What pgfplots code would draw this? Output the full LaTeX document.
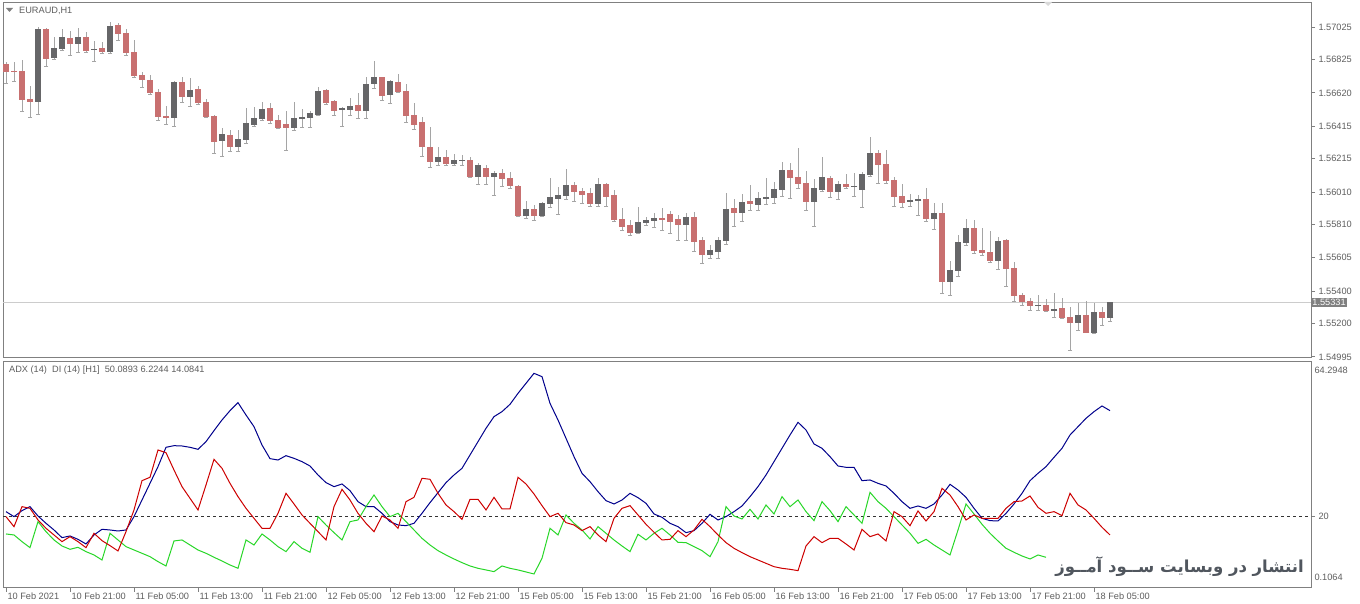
\documentclass[border=0pt]{standalone}
\usepackage{fontspec}
\setmainfont{Liberation Sans}
\newfontfamily\arabicfont[Script=Arabic]{DejaVu Sans}
\TeXXeTstate=1
\usepackage{pgfplots}
\usepackage{pgfplotstable}
\pgfplotsset{compat=1.18}
\definecolor{bull}{RGB}{102,102,104}
\definecolor{bear}{RGB}{200,112,112}
\definecolor{wick}{RGB}{165,165,165}
\definecolor{frame}{RGB}{128,128,128}
\definecolor{txt}{RGB}{95,95,95}
\definecolor{adxblue}{RGB}{0,0,140}
\definecolor{dired}{RGB}{205,0,0}
\definecolor{digreen}{RGB}{40,215,40}
\definecolor{wm}{RGB}{80,86,94}

\pgfplotstableread{
i o h l c
0 1.56797 1.56812 1.56682 1.56750
1 1.56756 1.56812 1.56689 1.56752
2 1.56754 1.56822 1.56510 1.56580
3 1.56584 1.56662 1.56473 1.56568
4 1.56565 1.57027 1.56490 1.57013
5 1.57013 1.57017 1.56781 1.56830
6 1.56838 1.56961 1.56826 1.56894
7 1.56892 1.57011 1.56883 1.56963
8 1.56957 1.57002 1.56853 1.56922
9 1.56922 1.57017 1.56873 1.56963
10 1.56963 1.56992 1.56873 1.56879
11 1.56885 1.56939 1.56816 1.56892
12 1.56896 1.56935 1.56863 1.56873
13 1.56873 1.57058 1.56863 1.57031
14 1.57037 1.57052 1.56945 1.56986
15 1.56988 1.57011 1.56853 1.56867
16 1.56871 1.56945 1.56719 1.56725
17 1.56730 1.56750 1.56654 1.56703
18 1.56699 1.56730 1.56613 1.56621
19 1.56625 1.56641 1.56449 1.56473
20 1.56479 1.56539 1.56428 1.56467
21 1.56467 1.56691 1.56416 1.56687
22 1.56687 1.56719 1.56565 1.56596
23 1.56596 1.56709 1.56539 1.56637
24 1.56643 1.56662 1.56551 1.56559
25 1.56563 1.56584 1.56469 1.56473
26 1.56477 1.56483 1.56248 1.56319
27 1.56326 1.56401 1.56227 1.56367
28 1.56360 1.56391 1.56258 1.56289
29 1.56289 1.56391 1.56258 1.56334
30 1.56330 1.56529 1.56309 1.56432
31 1.56428 1.56535 1.56416 1.56465
32 1.56461 1.56561 1.56453 1.56520
33 1.56527 1.56559 1.56436 1.56449
34 1.56453 1.56483 1.56401 1.56406
35 1.56428 1.56510 1.56264 1.56406
36 1.56408 1.56566 1.56391 1.56463
37 1.56461 1.56518 1.56408 1.56471
38 1.56467 1.56510 1.56408 1.56496
39 1.56486 1.56658 1.56483 1.56633
40 1.56635 1.56641 1.56551 1.56559
41 1.56570 1.56576 1.56483 1.56514
42 1.56516 1.56531 1.56412 1.56525
43 1.56520 1.56586 1.56483 1.56539
44 1.56545 1.56617 1.56463 1.56514
45 1.56514 1.56719 1.56463 1.56674
46 1.56676 1.56818 1.56648 1.56715
47 1.56715 1.56719 1.56576 1.56602
48 1.56607 1.56699 1.56559 1.56695
49 1.56687 1.56736 1.56621 1.56627
50 1.56631 1.56672 1.56442 1.56479
51 1.56483 1.56559 1.56395 1.56428
52 1.56440 1.56473 1.56231 1.56289
53 1.56287 1.56412 1.56161 1.56196
54 1.56196 1.56285 1.56176 1.56223
55 1.56223 1.56268 1.56176 1.56186
56 1.56184 1.56244 1.56176 1.56205
57 1.56203 1.56237 1.56176 1.56207
58 1.56205 1.56223 1.56098 1.56108
59 1.56108 1.56186 1.56059 1.56174
60 1.56157 1.56174 1.56059 1.56108
61 1.56104 1.56141 1.55991 1.56125
62 1.56125 1.56149 1.56047 1.56090
63 1.56094 1.56133 1.56032 1.56047
64 1.56047 1.56053 1.55858 1.55864
65 1.55864 1.55954 1.55848 1.55903
66 1.55903 1.55930 1.55837 1.55864
67 1.55864 1.55950 1.55862 1.55940
68 1.55936 1.56094 1.55919 1.55979
69 1.55967 1.56043 1.55874 1.55993
70 1.55987 1.56153 1.55965 1.56051
71 1.56053 1.56073 1.55950 1.56012
72 1.56018 1.56032 1.55940 1.55997
73 1.56005 1.56032 1.55923 1.55936
74 1.55940 1.56094 1.55923 1.56059
75 1.56059 1.56067 1.55923 1.55985
76 1.55991 1.56022 1.55833 1.55841
77 1.55843 1.55909 1.55776 1.55800
78 1.55807 1.55837 1.55745 1.55759
79 1.55759 1.55919 1.55755 1.55825
80 1.55821 1.55858 1.55807 1.55837
81 1.55833 1.55878 1.55796 1.55852
82 1.55850 1.55909 1.55776 1.55843
83 1.55872 1.55895 1.55755 1.55827
84 1.55843 1.55868 1.55714 1.55809
85 1.55809 1.55878 1.55714 1.55854
86 1.55854 1.55889 1.55643 1.55704
87 1.55714 1.55731 1.55571 1.55622
88 1.55622 1.55684 1.55601 1.55653
89 1.55643 1.55731 1.55601 1.55714
90 1.55710 1.56005 1.55690 1.55905
91 1.55911 1.55964 1.55800 1.55882
92 1.55882 1.55997 1.55827 1.55948
93 1.55952 1.56053 1.55899 1.55940
94 1.55932 1.56012 1.55899 1.55973
95 1.55969 1.56094 1.55936 1.55981
96 1.55973 1.56073 1.55940 1.56026
97 1.56026 1.56196 1.55981 1.56145
98 1.56145 1.56190 1.55971 1.56098
99 1.56104 1.56278 1.56032 1.56059
100 1.56067 1.56141 1.55895 1.55950
101 1.55950 1.56088 1.55800 1.56032
102 1.56028 1.56227 1.56012 1.56100
103 1.56094 1.56108 1.55977 1.56012
104 1.56012 1.56079 1.55964 1.56059
105 1.56059 1.56120 1.56032 1.56042
106 1.56042 1.56125 1.55981 1.56046
107 1.56022 1.56135 1.55915 1.56120
108 1.56118 1.56350 1.56104 1.56248
109 1.56248 1.56268 1.56063 1.56178
110 1.56182 1.56268 1.56063 1.56079
111 1.56083 1.56104 1.55924 1.55981
112 1.55985 1.56059 1.55915 1.55944
113 1.55950 1.55997 1.55924 1.55960
114 1.55956 1.55991 1.55868 1.55965
115 1.55967 1.56032 1.55833 1.55846
116 1.55846 1.55940 1.55780 1.55880
117 1.55880 1.55944 1.55386 1.55458
118 1.55458 1.55587 1.55376 1.55530
119 1.55526 1.55745 1.55489 1.55700
120 1.55698 1.55841 1.55684 1.55786
121 1.55786 1.55837 1.55632 1.55649
122 1.55653 1.55786 1.55622 1.55636
123 1.55640 1.55772 1.55575 1.55587
124 1.55587 1.55731 1.55534 1.55708
125 1.55714 1.55718 1.55427 1.55540
126 1.55544 1.55581 1.55335 1.55372
127 1.55376 1.55386 1.55310 1.55335
128 1.55339 1.55355 1.55284 1.55310
129 1.55310 1.55376 1.55284 1.55314
130 1.55314 1.55349 1.55273 1.55279
131 1.55279 1.55386 1.55242 1.55290
132 1.55294 1.55355 1.55232 1.55236
133 1.55240 1.55304 1.55037 1.55206
134 1.55206 1.55329 1.55161 1.55253
135 1.55253 1.55341 1.55144 1.55146
136 1.55146 1.55329 1.55140 1.55269
137 1.55269 1.55304 1.55191 1.55236
138 1.55236 1.55331 1.55212 1.55331
}\candles

\pgfplotstableread{
i adx pdi mdi
0 21.35 14.42 19.80
1 19.80 14.11 16.69
2 21.66 12.04 22.90
3 22.90 10.18 22.38
4 20.00 18.25 18.76
5 17.73 15.14 16.18
6 15.66 12.56 14.11
7 13.28 10.69 12.04
8 13.80 9.66 13.59
9 12.76 10.28 12.04
10 11.31 8.94 10.18
11 14.11 7.90 14.63
12 15.87 6.34 12.35
13 15.66 14.63 10.80
14 15.35 12.56 9.14
15 15.66 10.49 15.14
16 19.80 9.45 21.87
17 24.97 8.42 30.97
18 30.14 7.38 32.01
19 35.32 5.83 40.49
20 41.32 4.49 39.66
21 41.83 12.25 34.28
22 41.73 12.56 29.11
23 41.32 11.00 25.49
24 40.70 9.45 21.87
25 43.08 8.42 29.63
26 46.49 7.18 37.59
27 49.80 6.04 34.80
28 52.70 4.80 30.14
29 55.18 3.76 26.01
30 51.35 12.56 22.38
31 47.73 11.00 19.28
32 42.04 14.42 16.18
33 37.80 12.56 16.18
34 37.38 10.49 20.83
35 38.73 8.94 27.04
36 37.90 12.04 23.73
37 36.87 9.97 20.32
38 35.52 8.73 17.73
39 32.73 19.80 15.14
40 30.35 17.21 12.56
41 29.11 14.83 22.90
42 29.94 12.56 28.28
43 27.87 18.25 24.97
44 24.45 18.76 20.83
45 22.90 22.90 17.73
46 22.90 26.52 15.14
47 20.83 22.90 20.00
48 18.25 19.80 18.76
49 17.21 20.83 16.18
50 17.00 18.25 24.45
51 17.73 15.66 25.80
52 20.83 13.07 31.70
53 24.14 11.00 31.39
54 27.25 9.24 27.04
55 30.35 7.90 23.42
56 32.73 6.66 21.35
57 34.80 5.52 18.97
58 38.94 4.49 25.18
59 43.08 3.76 25.18
60 47.21 3.25 21.87
61 50.84 2.73 25.80
62 52.39 4.49 22.18
63 54.66 3.76 22.18
64 58.07 3.25 32.01
65 61.18 2.63 29.94
66 64.28 2.00 26.83
67 63.25 6.87 23.21
68 54.97 16.18 19.80
69 49.80 14.11 20.83
70 44.11 20.32 17.94
71 38.42 17.73 17.21
72 33.25 15.66 15.45
73 30.66 12.87 16.69
74 27.56 16.69 14.11
75 24.76 14.63 12.04
76 23.73 12.56 19.28
77 24.97 10.69 22.38
78 27.04 8.94 23.21
79 25.69 14.32 20.32
80 23.94 12.56 17.42
81 20.63 14.63 14.94
82 19.59 16.18 12.56
83 17.73 14.11 12.76
84 16.69 11.83 15.45
85 14.83 11.73 13.59
86 15.45 10.49 15.66
87 17.73 9.24 18.97
88 20.52 7.38 16.69
89 18.76 12.04 14.11
90 19.80 22.90 11.73
91 21.35 20.00 9.97
92 23.11 19.07 8.63
93 26.01 22.07 7.38
94 29.11 19.07 6.34
95 32.73 23.42 5.31
96 36.87 20.63 4.27
97 41.01 26.01 3.76
98 45.15 22.90 3.45
99 49.08 24.97 3.03
100 46.70 21.35 10.69
101 42.35 18.56 13.59
102 41.01 24.45 11.73
103 38.42 21.66 13.07
104 35.52 18.25 13.07
105 35.11 22.90 11.31
106 35.11 20.32 9.45
107 30.97 17.73 15.87
108 31.18 27.35 13.59
109 30.14 24.45 14.42
110 29.32 22.38 12.25
111 27.04 19.80 21.35
112 24.45 17.21 19.80
113 22.38 14.63 17.00
114 23.11 11.52 21.56
115 22.38 12.76 18.45
116 23.73 11.00 21.35
117 26.52 9.45 28.59
118 29.83 7.90 26.52
119 28.07 15.66 22.90
120 25.80 23.73 18.76
121 22.38 20.63 20.32
122 19.28 17.42 19.28
123 18.56 14.63 19.28
124 18.45 12.25 19.28
125 20.83 9.97 22.38
126 23.73 8.73 24.45
127 27.04 7.59 24.66
128 30.97 6.66 26.21
129 33.25 7.90 22.69
130 35.32 7.18 20.83
131 38.21 nan 21.35
132 41.01 nan 20.11
133 45.15 nan 27.04
134 47.73 nan 23.42
135 50.32 nan 21.87
136 52.39 nan 19.28
137 54.15 nan 16.49
138 52.70 nan 14.11
}\adxdata

\begin{document}
\begin{tikzpicture}[x=1pt,y=1pt]
\path[use as bounding box, fill=white] (0,0) rectangle (1360,604);

% ---------- price panel ----------
\begin{axis}[
  at={(3pt,246pt)}, anchor=south west,
  scale only axis, width=1308pt, height=355pt,
  xmin=-0.375, xmax=163.125,
  ymin=1.54988, ymax=1.57173,
  axis line style={frame, line width=1pt},
  xtick=\empty,
  ytick={1.57025,1.56825,1.56620,1.56415,1.56215,1.56010,1.55810,1.55605,1.55400,1.55200,1.54995},
  yticklabels={1.57025,1.56825,1.56620,1.56415,1.56215,1.56010,1.55810,1.55605,1.55400,1.55200,1.54995},
  ytick pos=right, yticklabel pos=right,
  tick align=outside, major tick length=4pt,
  tick style={frame, line width=0.8pt},
  yticklabel style={font=\fontsize{9.2}{11}\selectfont, text=txt, anchor=west},
  extra y ticks={1.55331},
  extra y tick labels={1.55331},
  extra y tick style={major tick length=0pt, yticklabel style={fill=frame, text=white, inner sep=1.2pt}},
]
\addplot[gray!40, line width=0.8pt, forget plot] coordinates {(-0.375,1.55331) (163.125,1.55331)};
% wicks
\addplot[wick, only marks, mark=-, mark options={draw=none, fill=none}, forget plot,
  error bars/.cd, y dir=plus, y explicit, error mark=none,
  error bar style={wick, line width=1pt}]
  table[x=i, y=l, y error plus expr=\thisrow{h}-\thisrow{l}] {\candles};
% bullish bodies
\addplot[only marks, mark=-, mark size=3.3pt, mark options={bull, line width=1pt}, forget plot,
  error bars/.cd, y dir=plus, y explicit, error mark=none,
  error bar style={bull, line width=6.6pt}]
  table[x=i, y expr={\thisrow{c}>=\thisrow{o} ? \thisrow{o} : nan},
        y error plus expr=\thisrow{c}-\thisrow{o}] {\candles};
% bearish bodies
\addplot[only marks, mark=-, mark size=3.3pt, mark options={bear, line width=1pt}, forget plot,
  error bars/.cd, y dir=plus, y explicit, error mark=none,
  error bar style={bear, line width=6.6pt}]
  table[x=i, y expr={\thisrow{c}<\thisrow{o} ? \thisrow{c} : nan},
        y error plus expr=\thisrow{o}-\thisrow{c}] {\candles};
\end{axis}

% ---------- ADX panel ----------
\begin{axis}[
  at={(3pt,16pt)}, anchor=south west,
  scale only axis, width=1308pt, height=226pt,
  xmin=-0.375, xmax=163.125,
  ymin=-2.35, ymax=67.80,
  axis line style={frame, line width=1pt},
  xtick={0,8,...,136},
  xticklabels={10 Feb 2021,10 Feb 21:00,11 Feb 05:00,11 Feb 13:00,11 Feb 21:00,12 Feb 05:00,12 Feb 13:00,12 Feb 21:00,15 Feb 05:00,15 Feb 13:00,15 Feb 21:00,16 Feb 05:00,16 Feb 13:00,16 Feb 21:00,17 Feb 05:00,17 Feb 13:00,17 Feb 21:00,18 Feb 05:00},
  xtick pos=bottom, xticklabel pos=bottom,
  xticklabel style={font=\fontsize{9.2}{11}\selectfont, text=txt, anchor=north west, xshift=-2pt, yshift=3pt},
  ytick={20}, yticklabels={20},
  ytick pos=right, yticklabel pos=right,
  tick align=outside, major tick length=4pt,
  tick style={frame, line width=0.8pt},
  yticklabel style={font=\fontsize{9.2}{11}\selectfont, text=txt, anchor=west},
  extra y ticks={64.2948,0.1064},
  extra y tick labels={64.2948,0.1064},
  extra y tick style={major tick length=0pt, yticklabel style={yshift=3pt}},
  unbounded coords=jump,
]
\addplot[black!80, line width=0.8pt, dash pattern=on 3pt off 3pt, forget plot] coordinates {(-0.375,20) (163.125,20)};
\addplot[adxblue, line width=1pt] table[x=i, y=adx] {\adxdata};
\addplot[digreen, line width=1pt] table[x=i, y=pdi] {\adxdata};
\addplot[dired, line width=1pt] table[x=i, y=mdi] {\adxdata};
\end{axis}

% headers and watermark
\fill[txt!80] (6,596) -- (13,596) -- (9.5,592) -- cycle;
\node[anchor=west, inner sep=0pt, text=txt, font=\fontsize{9.2}{11}\selectfont] at (19,593.5) {EURAUD,H1};
\fill[gray!30] (1044,602) -- (1052,602) -- (1048,598) -- cycle;
\node[anchor=west, inner sep=0pt, text=txt, font=\fontsize{9.2}{11}\selectfont] at (9,234) {ADX (14)\ \ DI (14) [H1]\ \ 50.0893 6.2244 14.0841};
\node[anchor=east, inner sep=0pt, text=wm, font=\arabicfont\bfseries\fontsize{16.5}{20}\selectfont] at (1304,37) {\beginR انتشار در وبسایت ســود آمــوز\endR};
\end{tikzpicture}
\end{document}
